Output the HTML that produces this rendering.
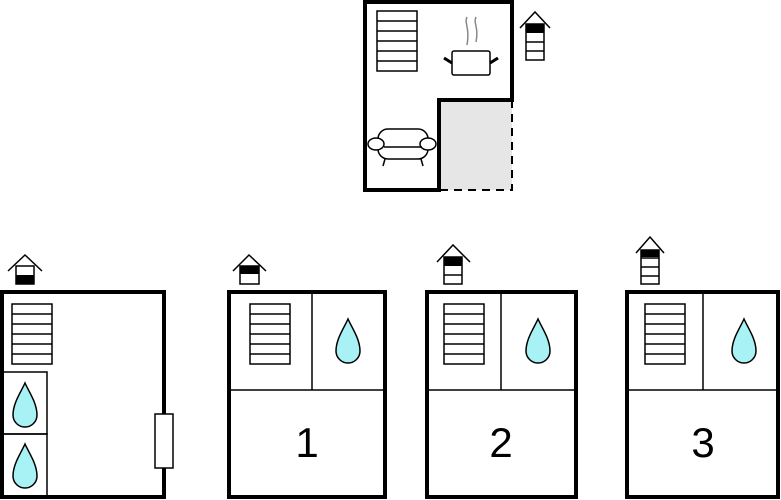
<!DOCTYPE html>
<html><head><style>html,body{margin:0;padding:0;background:#fff;width:781px;height:500px;overflow:hidden}</style></head>
<body>
<svg width="781" height="500" xmlns="http://www.w3.org/2000/svg">
<defs>
<g id="st"><rect x="0" y="0" width="40" height="60" fill="#fff" stroke="#000" stroke-width="1.5"/>
<path d="M0 10H40M0 20H40M0 30H40M0 40H40M0 50H40" stroke="#000" stroke-width="1.5"/></g>
<path id="dr" d="M0 0 C-4 9 -12 20 -12 32 A12 12 0 0 0 12 32 C12 20 4 9 0 0Z" fill="#a8f2f6" stroke="#000" stroke-width="1.5"/>
</defs>
<!-- top plan -->
<rect x="439" y="100" width="73" height="90" fill="#e6e6e6"/>
<path d="M512 100V190H439" fill="none" stroke="#000" stroke-width="2" stroke-dasharray="8,6"/>
<path d="M365 2H512V100H439V190H365Z" fill="none" stroke="#000" stroke-width="4"/>
<use href="#st" x="377" y="11"/>
<path d="M467 17c-3 6 3 10 0 28M476 17c-3 6 3 10 0 25" stroke="#888" stroke-width="1.5" fill="none"/>
<rect x="452" y="51" width="38" height="24" rx="2" fill="#fff" stroke="#000" stroke-width="1.5"/>
<path d="M444 58l8 5M498 58l-8 5" stroke="#000" stroke-width="3"/>
<rect x="378" y="129" width="50" height="30" rx="10" fill="#fff" stroke="#000" stroke-width="1.5"/>
<ellipse cx="376" cy="144" rx="8" ry="6" fill="#fff" stroke="#000" stroke-width="1.5"/>
<ellipse cx="428" cy="144" rx="8" ry="6" fill="#fff" stroke="#000" stroke-width="1.5"/>
<path d="M385 159l-2 7M421 159l2 7M384 147H422" stroke="#000" stroke-width="1.5"/>
<path d="M520 28L535 12L550 28" fill="none" stroke="#000" stroke-width="1.5"/>
<rect x="526" y="24" width="18" height="36" fill="#fff" stroke="#000" stroke-width="1.5"/>
<rect x="526" y="24" width="18" height="9" fill="#000"/>
<path d="M526 42H544M526 51H544" stroke="#000" stroke-width="1.5"/>
<!-- bottom left -->
<path d="M8 271L25 255L42 271" fill="none" stroke="#000" stroke-width="1.5"/>
<rect x="16" y="266" width="18" height="18" fill="#fff" stroke="#000" stroke-width="1.5"/>
<rect x="16" y="275" width="18" height="9" fill="#000"/>
<rect x="2" y="292" width="162" height="205" fill="none" stroke="#000" stroke-width="4"/>
<use href="#st" x="12" y="304"/>
<rect x="2" y="372" width="45" height="62" fill="none" stroke="#000" stroke-width="1.5"/>
<rect x="2" y="434" width="45" height="63" fill="none" stroke="#000" stroke-width="1.5"/>
<use href="#dr" x="25" y="383"/>
<use href="#dr" x="25" y="444"/>
<rect x="155" y="414" width="18" height="54" fill="#fff" stroke="#000" stroke-width="1.5"/>
<!-- box1 -->
<path d="M233 271L249 255L266 271" fill="none" stroke="#000" stroke-width="1.5"/>
<rect x="240" y="266" width="19" height="18" fill="#fff" stroke="#000" stroke-width="1.5"/>
<rect x="240" y="266" width="19" height="8" fill="#000"/>
<rect x="229" y="292" width="156" height="205" fill="none" stroke="#000" stroke-width="4"/>
<path d="M312 292V390M229 390H385" stroke="#000" stroke-width="1.5"/>
<use href="#st" x="250" y="304"/>
<use href="#dr" x="348" y="319"/>
<text x="307" y="457" font-family="Liberation Sans, sans-serif" font-size="42" text-anchor="middle">1</text>
<!-- box2 -->
<path d="M437 262L453 245L470 262" fill="none" stroke="#000" stroke-width="1.5"/>
<rect x="444" y="257" width="18" height="27" fill="#fff" stroke="#000" stroke-width="1.5"/>
<rect x="444" y="257" width="18" height="9" fill="#000"/>
<path d="M444 275H462" stroke="#000" stroke-width="1.5"/>
<rect x="427" y="292" width="149" height="205" fill="none" stroke="#000" stroke-width="4"/>
<path d="M501 292V390M427 390H576" stroke="#000" stroke-width="1.5"/>
<use href="#st" x="444" y="304"/>
<use href="#dr" x="538" y="319"/>
<text x="501" y="457" font-family="Liberation Sans, sans-serif" font-size="42" text-anchor="middle">2</text>
<!-- box3 -->
<path d="M636 253L650 237L664 253" fill="none" stroke="#000" stroke-width="1.5"/>
<rect x="641" y="250" width="18" height="34" fill="#fff" stroke="#000" stroke-width="1.5"/>
<rect x="641" y="250" width="18" height="7" fill="#000"/>
<path d="M641 258H659M641 267H659M641 276H659" stroke="#000" stroke-width="1.5"/>
<rect x="627" y="292" width="151" height="205" fill="none" stroke="#000" stroke-width="4"/>
<path d="M703 292V390M627 390H778" stroke="#000" stroke-width="1.5"/>
<use href="#st" x="645" y="304"/>
<use href="#dr" x="744" y="319"/>
<text x="703" y="457" font-family="Liberation Sans, sans-serif" font-size="42" text-anchor="middle">3</text>
</svg>
</body></html>
